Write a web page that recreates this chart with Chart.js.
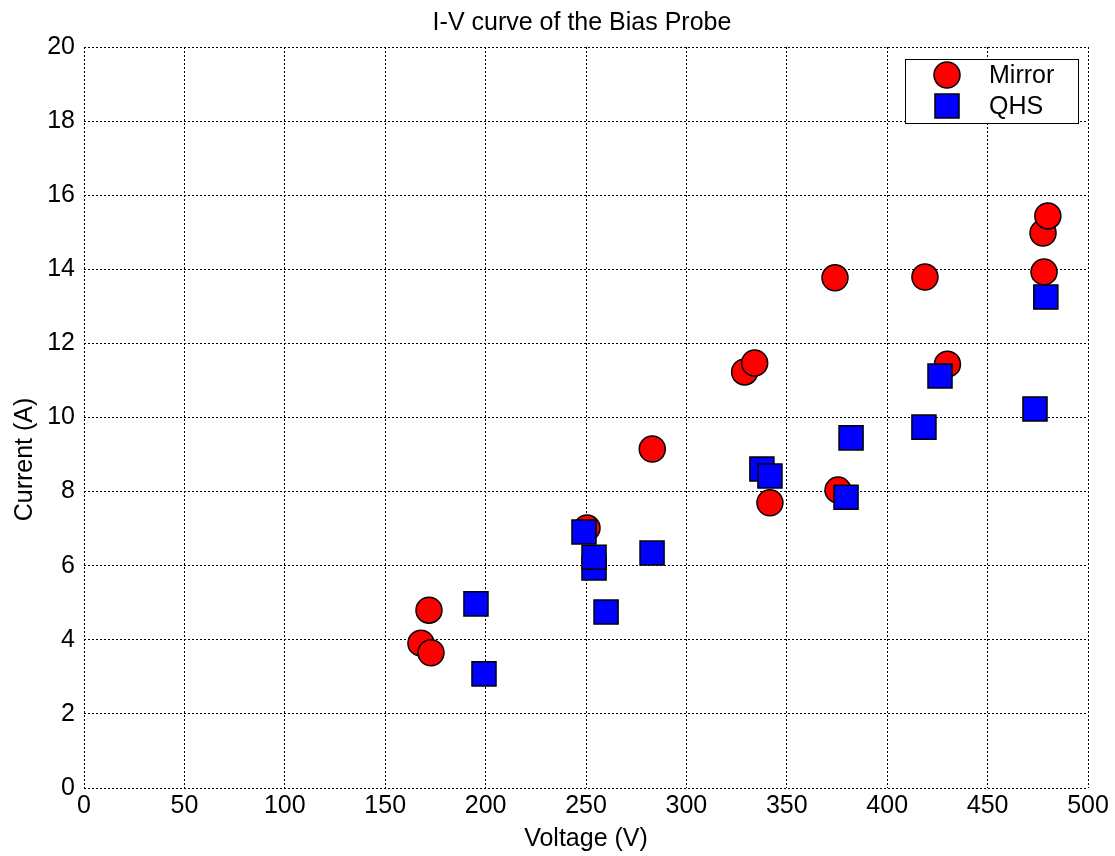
<!DOCTYPE html>
<html>
<head>
<meta charset="utf-8">
<script src="https://cdn.jsdelivr.net/npm/chart.js@4/dist/chart.umd.min.js"></script>
<style>
  html, body { margin: 0; padding: 0; background: #fff; }
  #wrap { width: 1115px; height: 856px; }
</style>
</head>
<body>
<div id="wrap"><canvas id="c" width="1115" height="856"></canvas></div>
<script>
// Labels
const chartTitle = 'I-V curve of the Bias Probe';
const xTitle = 'Voltage (V)';
const yTitle = 'Current (A)';
const seriesNames = ['Mirror', 'QHS'];

// Measurements: bias voltage (V) and collected current (A)
const mirrorVoltage = [171.8, 167.8, 172.8, 250.5, 283.0, 329.0, 334.0, 374.0, 375.5, 341.6, 418.8, 430.0, 477.6, 480.0, 478.1];
const mirrorCurrent = [4.80, 3.91, 3.65, 7.02, 9.15, 11.23, 11.47, 13.77, 8.04, 7.70, 13.79, 11.44, 14.98, 15.44, 13.93];

const qhsVoltage = [195.2, 199.2, 249.0, 254.0, 254.0, 260.0, 282.9, 337.6, 341.6, 382.0, 379.5, 418.3, 426.3, 473.6, 479.0];
const qhsCurrent = [4.97, 3.08, 6.91, 5.94, 6.23, 4.75, 6.34, 8.61, 8.42, 9.45, 7.85, 9.74, 11.12, 10.23, 13.25];

// Axis ticks
const xTicks = [0, 50, 100, 150, 200, 250, 300, 350, 400, 450, 500];
const yTicks = [0, 2, 4, 6, 8, 10, 12, 14, 16, 18, 20];

const FONT = '"Liberation Sans", Arial, Helvetica, sans-serif';
const FONT_SIZE = 25;

const toPoints = (xs, ys) => xs.map((x, i) => ({ x: x, y: ys[i] }));

const markerStyles = [
  { pointStyle: 'circle', radius: 13, fill: '#ff0000' },
  { pointStyle: 'rect', radius: 17, fill: '#0000ff' }
];

function drawMarker(ctx, style, x, y) {
  ctx.save();
  ctx.fillStyle = style.fill;
  ctx.strokeStyle = '#000';
  ctx.lineWidth = 1.5;
  ctx.beginPath();
  if (style.pointStyle === 'circle') {
    ctx.arc(x, y, style.radius, 0, Math.PI * 2);
  } else {
    const h = Math.SQRT1_2 * style.radius;
    ctx.rect(x - h, y - h, 2 * h, 2 * h);
  }
  ctx.fill();
  ctx.stroke();
  ctx.restore();
}

// Title centred over the plotting area, y-axis label beside it
const axisTextPlugin = {
  id: 'axisText',
  afterDraw(chart) {
    const { ctx, chartArea: a } = chart;
    ctx.save();
    ctx.font = FONT_SIZE + 'px ' + FONT;
    ctx.fillStyle = '#000';
    ctx.textAlign = 'center';
    ctx.textBaseline = 'middle';
    ctx.fillText(chartTitle, (a.left + a.right) / 2 - 4, a.top - 24);
    ctx.translate(25, (a.top + a.bottom) / 2 + 42);
    ctx.rotate(-Math.PI / 2);
    ctx.fillText(yTitle, 0, 0);
    ctx.restore();
  }
};

// Boxed legend in the upper-right corner of the plot
const boxLegendPlugin = {
  id: 'boxLegend',
  afterDatasetsDraw(chart) {
    const { ctx, chartArea: a } = chart;
    const right = a.right - 10, left = right - 173;
    const top = a.top + 12, bottom = top + 64;
    ctx.save();
    ctx.fillStyle = '#fff';
    ctx.fillRect(left, top, right - left, bottom - top);
    ctx.strokeStyle = '#000';
    ctx.lineWidth = 1;
    ctx.strokeRect(left + 0.5, top + 0.5, right - left, bottom - top);
    ctx.font = FONT_SIZE + 'px ' + FONT;
    ctx.textAlign = 'left';
    ctx.textBaseline = 'middle';
    seriesNames.forEach((name, i) => {
      const y = top + 16 + i * 31;
      drawMarker(ctx, markerStyles[i], left + 42, y);
      ctx.fillStyle = '#000';
      ctx.fillText(name, left + 84, y + 1);
    });
    ctx.restore();
  }
};

const gridOpts = { color: '#000', lineWidth: 1, drawTicks: false };
const borderOpts = { display: false, dash: [2, 2] };
const tickFont = { family: FONT, size: FONT_SIZE };

new Chart(document.getElementById('c'), {
  type: 'scatter',
  data: {
    datasets: [
      {
        label: seriesNames[0],
        data: toPoints(mirrorVoltage, mirrorCurrent),
        pointStyle: 'circle',
        pointRadius: markerStyles[0].radius,
        pointHoverRadius: markerStyles[0].radius,
        backgroundColor: markerStyles[0].fill,
        borderColor: '#000',
        borderWidth: 1.5,
        order: 1
      },
      {
        label: seriesNames[1],
        data: toPoints(qhsVoltage, qhsCurrent),
        pointStyle: 'rect',
        pointRadius: markerStyles[1].radius,
        pointHoverRadius: markerStyles[1].radius,
        backgroundColor: markerStyles[1].fill,
        borderColor: '#000',
        borderWidth: 1.5,
        order: 0
      }
    ]
  },
  options: {
    responsive: false,
    devicePixelRatio: 1,
    animation: false,
    layout: { padding: { top: 47, right: 27, left: 0, bottom: 0 } },
    plugins: {
      legend: { display: false },
      title: { display: false },
      tooltip: { enabled: false }
    },
    scales: {
      x: {
        type: 'linear',
        min: 0, max: 500,
        afterBuildTicks: s => { s.ticks = xTicks.map(v => ({ value: v })); },
        afterFit: s => { s.height = 68; },
        grid: gridOpts,
        border: borderOpts,
        ticks: { color: '#000', font: tickFont, padding: 3, maxRotation: 0, autoSkip: false },
        title: { display: true, text: xTitle, color: '#000', font: tickFont, padding: { top: 0, bottom: 2 } }
      },
      y: {
        type: 'linear',
        min: 0, max: 20,
        afterBuildTicks: s => { s.ticks = yTicks.map(v => ({ value: v })); },
        afterFit: s => { s.width = 84; },
        grid: gridOpts,
        border: borderOpts,
        ticks: { color: '#000', font: tickFont, padding: 9, autoSkip: false },
        title: { display: false }
      }
    }
  },
  plugins: [axisTextPlugin, boxLegendPlugin]
});
</script>
</body>
</html>
